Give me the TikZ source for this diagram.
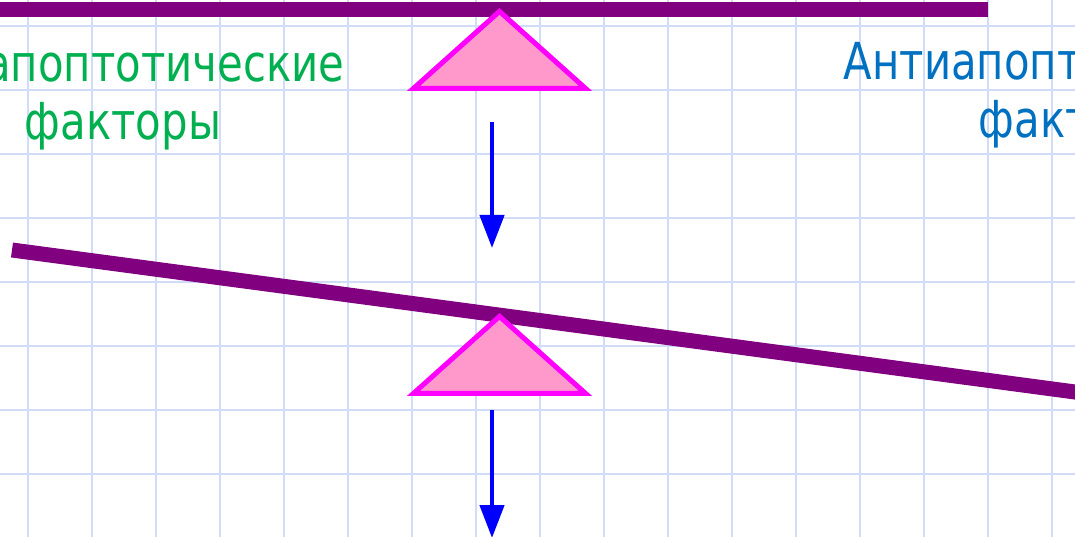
\documentclass[tikz,border=0pt]{standalone}
\usepackage{fontspec}
\setmainfont[FakeStretch=0.82]{DejaVu Sans}
\usepackage{tikz}
\usetikzlibrary{calc, arrows.meta}
\usetikzlibrary{positioning}
\definecolor{gridblue}{RGB}{208,220,248}
\definecolor{leverpurple}{RGB}{128,0,128}
\definecolor{wedgepink}{RGB}{255,153,204}
\definecolor{wedgeedge}{RGB}{255,0,255}
\definecolor{progreen}{RGB}{0,176,80}
\definecolor{antiblue}{RGB}{0,112,192}
\tikzset{
    gridline/.style={gridblue, line width=2pt},
    lever/.style={leverpurple, line width=15pt},
    wedge/.style={fill=wedgepink, draw=wedgeedge, line width=5pt, line join=miter},
    push/.style={blue, line width=4.5pt, -{Triangle[length=33pt,width=24pt]}},
    factors/.style={align=center, inner sep=0pt, anchor=base,
        font=\fontsize{51}{58}\selectfont},
}
\NewDocumentCommand{\fulcrum}{%
    m   % name
    m   % apex
    }{%
    \path (#2) ++(-86,77) coordinate (#1L);
    \path (#2) ++(86,77) coordinate (#1R);
    \draw[wedge] (#2) --(#1L) --(#1R) --cycle;
}

\begin{document}
\begin{tikzpicture}[x=1pt, y=-1pt]
    \useasboundingbox (0,0) rectangle (1075,537);
    \clip (0,0) rectangle (1075,537);
    % squared paper
    \foreach \col in {0,...,16} {
        \draw[gridline] (28+64*\col,0) --(28+64*\col,537);
    }
    \foreach \row in {0,...,7} {
        \draw[gridline] (0,25.7+64*\row) --(1075,25.7+64*\row);
    }
    % balanced lever
    \coordinate (TopL) at (0,10);
    \coordinate (TopR) at (988,10);
    \draw[lever] (TopL) --(TopR);
    \coordinate (TopApex) at (499.5,11.4);
    \fulcrum{TopWedge}{TopApex}
    \node[factors, progreen] (pro) at (123,140) {Проапоптотические\\факторы};
    \node[factors, antiblue] (anti) at (1077,138) {Антиапоптотические\\факторы};
    \coordinate (TopPushA) at (492,122);
    \coordinate (TopPushB) at (492,248);
    \draw[push] (TopPushA) --(TopPushB);
    % tilted lever
    \coordinate (LowL) at (12,250);
    \coordinate (LowR) at ($(LowL)!1.02!(1075,392)$);
    \draw[lever] (LowL) --(LowR);
    \coordinate (LowApex) at (499.5,316.4);
    \fulcrum{LowWedge}{LowApex}
    \coordinate (LowPushA) at (492,410);
    \coordinate (LowPushB) at (492,538);
    \draw[push] (LowPushA) --(LowPushB);
\end{tikzpicture}
\end{document}
